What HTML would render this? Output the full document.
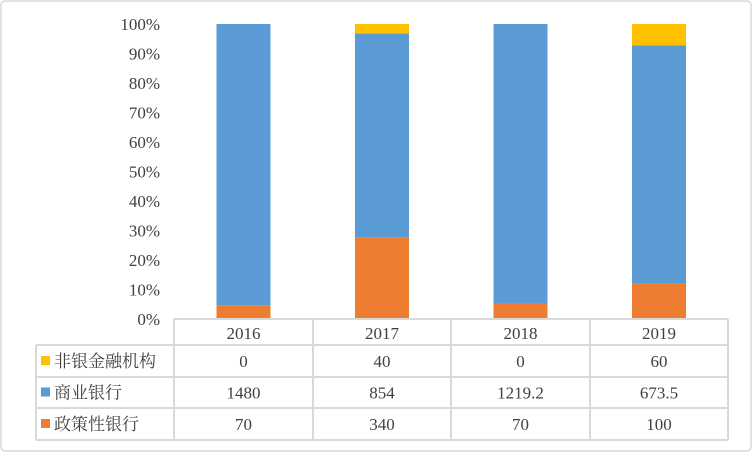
<!DOCTYPE html>
<html><head><meta charset="utf-8"><style>
body{margin:0;background:#fff}
svg text{font-family:"Liberation Serif","Noto Serif CJK SC",serif;fill:#404040;font-size:17px}
</style></head><body>
<svg width="752" height="452" viewBox="0 0 752 452" xmlns="http://www.w3.org/2000/svg" id="chart">
<rect x="1" y="1" width="750" height="450" rx="4" fill="#fff" stroke="#d9d9d9" stroke-width="1.5"/>
<g id="yaxis"></g>
<g id="bars"></g>
<g id="table"></g>
</svg>
<script>
const categories=["2016","2017","2018","2019"];
const seriesNames=["非银金融机构","商业银行","政策性银行"];
const nonBank=[0,40,0,60];
const commercial=[1480,854,1219.2,673.5];
const policy=[70,340,70,100];
const valueLabels=[["0","40","0","60"],["1480","854","1219.2","673.5"],["70","340","70","100"]];
const yTicks=[0,10,20,30,40,50,60,70,80,90,100];
const colors=["#FFC000","#5B9BD5","#ED7D31"];
const NS="http://www.w3.org/2000/svg";
const top0=24,bot0=319,colX=[174,313,451,590,728],tableLeft=36,rowY=[319,345,377,408,440];
function y(p){return bot0-(bot0-top0)*p/100;}
function mk(tag,attrs,parent,txt){const e=document.createElementNS(NS,tag);for(const k in attrs)e.setAttribute(k,attrs[k]);if(txt!==undefined)e.textContent=txt;parent.appendChild(e);return e;}
const ya=document.getElementById('yaxis');
yTicks.forEach(t=>{const e=mk('text',{x:160,y:y(t)+6,'text-anchor':'end'},ya,t+'%');

});
const bg=document.getElementById('bars');
categories.forEach((c,i)=>{
 const tot=nonBank[i]+commercial[i]+policy[i];
 const cx=(colX[i]+colX[i+1])/2,w=54;
 const segs=[[policy[i],colors[2],'bar-policy-'+c],[commercial[i],colors[1],'bar-commercial-'+c],[nonBank[i],colors[0],'bar-nonbank-'+c]];
 let acc=0;
 segs.forEach(s=>{const p0=acc/tot*100;acc+=s[0];const p1=acc/tot*100;
  const r=mk('rect',{x:cx-w/2,y:y(p1),width:w,height:y(p0)-y(p1),fill:s[1]},bg);
  
  });
});
const tb=document.getElementById('table');
const st={stroke:'#d9d9d9','stroke-width':2};
mk('line',Object.assign({x1:colX[0],y1:rowY[0],x2:colX[4],y2:rowY[0]},st),tb);
for(let r=1;r<rowY.length;r++)mk('line',Object.assign({x1:tableLeft,y1:rowY[r],x2:colX[4],y2:rowY[r]},st),tb);
colX.forEach((x,i)=>mk('line',Object.assign({x1:x,y1:rowY[0],x2:x,y2:rowY[4]},st),tb));
mk('line',Object.assign({x1:tableLeft,y1:rowY[1],x2:tableLeft,y2:rowY[4]},st),tb);
categories.forEach((c,i)=>{const e=mk('text',{x:(colX[i]+colX[i+1])/2,y:rowY[0]+20,'text-anchor':'middle'},tb,c);

});
seriesNames.forEach((n,r)=>{
 const yc=(rowY[r+1]+rowY[r+2])/2;
 const k=mk('rect',{x:41,y:yc-5,width:9,height:9,fill:colors[r]},tb);
 
 
 const t=mk('text',{x:54,y:yc+6},tb,n);
 
 
 valueLabels[r].forEach((v,i)=>{const e=mk('text',{x:(colX[i]+colX[i+1])/2,y:yc+6,'text-anchor':'middle'},tb,v);
 
 });
});
</script>
</body></html>
